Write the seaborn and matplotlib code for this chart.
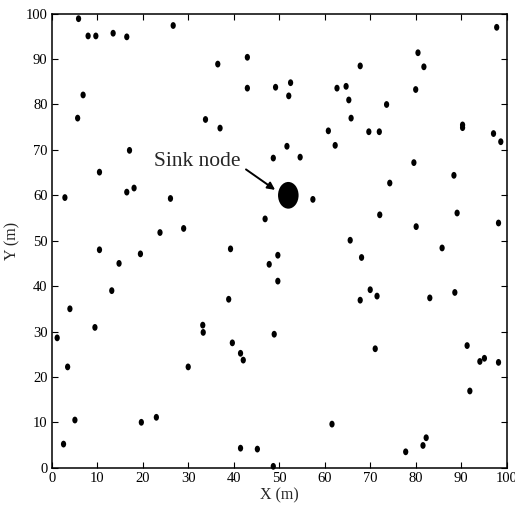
import matplotlib
matplotlib.use("Agg")
import matplotlib.pyplot as plt
import seaborn as sns
import pandas as pd
from matplotlib.path import Path
from matplotlib.transforms import Affine2D

# Sensor node positions (m)
node_x = [5.9, 8.0, 9.7, 13.5, 16.5, 26.7, 6.9, 5.7, 36.5, 43.0,
          43.0, 49.2, 33.8, 37.0, 17.1, 10.5, 16.5, 18.1, 2.9, 26.1,
          48.7, 46.9, 23.8, 29.0, 97.8, 80.5, 81.8, 67.8, 52.5, 52.1,
          62.7, 64.7, 65.3, 80.0, 73.6, 65.8, 60.8, 69.7, 72.0, 90.3,
          90.3, 97.1, 98.7, 51.7, 62.3, 54.6, 79.6, 74.3, 88.4, 57.4,
          72.1, 89.1, 80.1, 98.2, 65.6, 10.5, 19.5, 14.8, 13.2, 4.0,
          9.5, 1.2, 3.5, 5.1, 2.6, 19.7, 23.0, 30.0, 33.2, 33.3,
          39.3, 38.9, 39.7, 41.5, 42.1, 41.5, 45.2, 48.7, 47.8, 49.7,
          49.7, 48.9, 68.1, 70.0, 67.8, 71.5, 85.8, 88.6, 83.1, 71.1,
          91.3, 94.1, 95.1, 98.2, 91.9, 61.6, 82.3, 81.6, 77.8]
node_y = [98.9, 95.1, 95.1, 95.7, 94.9, 97.4, 82.1, 77.0, 88.9, 90.4,
          83.6, 83.8, 76.7, 74.8, 69.9, 65.1, 60.7, 61.6, 59.5, 59.3,
          68.2, 54.8, 51.8, 52.7, 97.0, 91.4, 88.3, 88.5, 84.8, 81.9,
          83.6, 84.0, 81.0, 83.3, 80.0, 77.0, 74.2, 74.0, 74.0, 75.5,
          74.9, 73.6, 71.8, 70.8, 71.0, 68.4, 67.2, 62.7, 64.4, 59.1,
          55.7, 56.1, 53.1, 53.9, 50.1, 48.0, 47.1, 45.0, 39.0, 35.0,
          30.9, 28.6, 22.2, 10.5, 5.2, 10.0, 11.1, 22.2, 31.4, 29.8,
          48.2, 37.1, 27.5, 25.2, 23.7, 4.3, 4.1, 0.3, 44.8, 46.8,
          41.1, 29.4, 46.3, 39.2, 36.9, 37.8, 48.4, 38.6, 37.4, 26.2,
          26.9, 23.4, 24.1, 23.2, 16.9, 9.6, 6.6, 4.9, 3.5]

# Sink position (m)
sink_x = [52.0]
sink_y = [60.0]

ticks = list(range(0, 101, 10))
sink_label = "Sink node"

sns.set_style("ticks")
plt.rcParams["font.family"] = ["Liberation Serif", "DejaVu Serif"]

fig = plt.figure(figsize=(5.15, 5.13), dpi=100)
ax = fig.add_axes([0.1004, 0.0883, 0.8835, 0.885])

# slightly tall oval marker
oval = Path.unit_circle().transformed(Affine2D().scale(1.0, 1.3))

nodes = pd.DataFrame({"x": node_x, "y": node_y})
sns.scatterplot(data=nodes, x="x", y="y", marker=oval, s=24, color="black",
                edgecolor="none", linewidth=0, legend=False, ax=ax,
                clip_on=False, zorder=3)

sink = pd.DataFrame({"x": sink_x, "y": sink_y})
sns.scatterplot(data=sink, x="x", y="y", marker=oval, s=370, color="black",
                edgecolor="none", linewidth=0, legend=False, ax=ax, zorder=3)

# label and pointer for the sink
ax.text(41.5, 67.4, sink_label, ha="right", va="center", fontsize=15.5)
ax.annotate("", xy=(49.1, 61.2), xytext=(42.7, 65.7),
            arrowprops=dict(arrowstyle="-|>", color="black", lw=1.4,
                            mutation_scale=11, shrinkA=0, shrinkB=0))

ax.set_xlim(0, 100)
ax.set_ylim(0, 100)
ax.set_xticks(ticks)
ax.set_yticks(ticks)
ax.tick_params(direction="in", top=True, right=True, length=4, width=0.8,
               labelsize=10.5, pad=3, colors="black")
for side in ax.spines.values():
    side.set_visible(True)
    side.set_linewidth(1.1)
    side.set_color("black")

ax.set_xlabel("X (m)", fontsize=11.5, labelpad=2)
ax.set_ylabel("Y (m)", fontsize=11.5, labelpad=4)

fig.savefig("out.png", dpi=100, facecolor="white")
